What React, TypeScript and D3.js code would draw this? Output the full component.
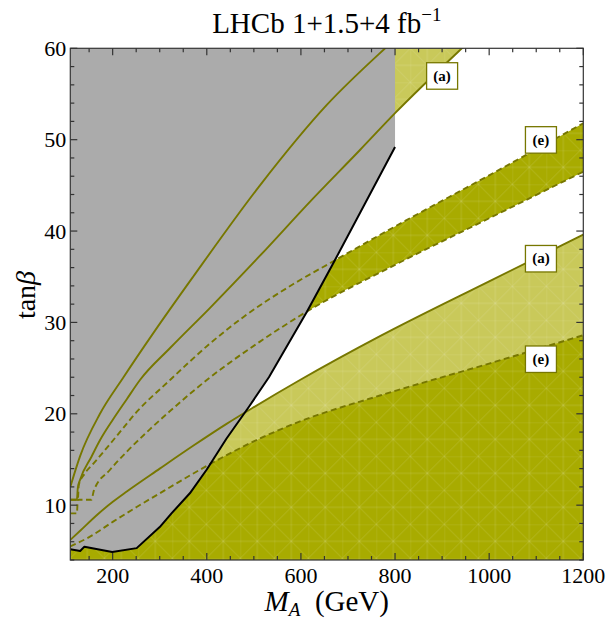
import React from "react";
import * as d3 from "d3";

// ---- data ----
const xTicks = [200, 400, 600, 800, 1000, 1200];
const yTicks = [10, 20, 30, 40, 50, 60];

// black exclusion boundary (grey region lies above it, up to M_A = 800)
const blackM = [110, 131, 140, 199, 251, 300, 325, 364, 400, 442, 490, 532, 613, 669, 800];
const blackT = [5.17, 4.98, 5.46, 4.87, 5.3, 7.6, 9.1, 11.3, 13.9, 17.3, 20.8, 24.0, 31.2, 36.5, 49.2];

// upper (a) band : solid lines
const s1M = [110, 131, 173, 223, 290, 371, 513, 655, 779, 900];
const s1T = [12.0, 15.4, 20.0, 24.0, 29.1, 35.0, 45.0, 53.8, 60.0, 65.5];
const s2M = [110, 124, 126, 131, 155, 173, 201, 230, 258, 322, 407, 513, 619, 726, 800, 942, 1000];
const s2T = [10.6, 10.6, 11.9, 12.8, 15.3, 17.1, 19.4, 21.6, 23.7, 27.2, 31.6, 37.3, 43.2, 48.9, 52.9, 60.0, 62.8];

// upper (e) band : dashed lines
const d1M = [110, 126, 128, 140, 160, 180, 209, 251, 322, 407, 478, 584, 669, 800, 1000, 1200];
const d1T = [10.6, 10.6, 12.2, 13.4, 14.6, 15.8, 17.6, 20.2, 23.7, 27.7, 30.6, 34.2, 36.7, 40.5, 46.1, 51.8];
const d2M = [110, 124, 126, 155, 160, 194, 230, 279, 322, 400, 513, 613, 800, 1000, 1200];
const d2T = [9.1, 9.1, 10.6, 10.6, 11.6, 13.85, 15.85, 18.3, 20.3, 23.7, 27.9, 31.2, 36.3, 41.4, 46.5];

// lower (a) region : solid upper edge
const s3M = [110, 131, 166, 201, 230, 300, 371, 442, 499, 598, 768, 1000, 1200];
const s3T = [6.2, 7.2, 8.9, 10.4, 11.5, 14.0, 16.5, 18.9, 20.7, 23.7, 28.5, 34.5, 39.6];

// lower (e) region : dashed upper edge
const d3M = [110, 150, 201, 251, 300, 336, 400, 513, 600, 768, 1000, 1200];
const d3T = [5.5, 6.5, 8.2, 9.8, 11.3, 12.4, 14.3, 17.3, 19.2, 22.0, 25.5, 28.6];

const labelText = ["(a)", "(e)", "(a)", "(e)"];
const labelM = [900, 1110, 1110, 1110];
const labelT = [57, 50, 37, 26];

const greyEdgeM = 800;

// ---- layout ----
const W = 609, H = 620;
const L = 70.3, R = 583.3, T = 48.3, B = 560;

const x = d3.scaleLinear().domain([110, 1200]).range([L, R]);
const y = d3.scaleLinear().domain([4, 60]).range([B, T]);

const zip = (ms: number[], ts: number[]) => ms.map((m, i) => [m, ts[i]] as [number, number]);

const line = d3.line<[number, number]>().x(d => x(d[0])).y(d => y(d[1])).curve(d3.curveMonotoneX);
const lineLin = d3.line<[number, number]>().x(d => x(d[0])).y(d => y(d[1]));

const COL_DARK = "#a8ab00";
const COL_LIGHT = "#c9c95a";
const COL_LINE = "#777700";
const COL_GREY = "#ababab";
const FONT = "'Liberation Serif', 'Times New Roman', serif";

export default function App() {
  const s1 = zip(s1M, s1T), s2 = zip(s2M, s2T);
  const d1 = zip(d1M, d1T), d2 = zip(d2M, d2T);
  const s3 = zip(s3M, s3T), d3p = zip(d3M, d3T);
  const blk = zip(blackM, blackT);

  const closeDown = (pts: [number, number][]) =>
    line(pts)! + `L${x(1200)},${y(4)}L${x(110)},${y(4)}Z`;
  const band = (up: [number, number][], lo: [number, number][]) => {
    const a = line(up)!;
    const b = line(lo.slice().reverse())!;
    return a + "L" + b.slice(1) + "Z";
  };

  const lightLower = closeDown(s3);
  const darkLower = closeDown(d3p);
  const lightBand = band(s1, s2);
  const darkBand = band(d1, d2);
  const grey = lineLin(blk)! + `L${x(greyEdgeM)},${y(60)}L${x(110)},${y(60)}Z`;

  const xMinor = d3.range(150, 1201, 50);
  const yMinor = d3.range(4, 61, 2);

  const mesh = (id: string, color: string) => (
    <pattern id={id} patternUnits="userSpaceOnUse" width={34} height={34} x={L} y={T}>
      <rect width={34} height={34} fill={color} />
      <g stroke="#ffffff" strokeOpacity={0.2} strokeWidth={0.7} fill="none">
        <path d="M0,0L34,34M34,0L0,34M17,0V34M0,17H34M0,0H34M0,0V34" />
      </g>
    </pattern>
  );

  return (
    <svg width={W} height={H} style={{ position: "absolute", left: 0, top: 0, background: "#fff", fontFamily: FONT }}>
      <defs>
        <clipPath id="plot"><rect x={L} y={T} width={R - L} height={B - T} /></clipPath>
        {mesh("mDark", COL_DARK)}
        {mesh("mLight", COL_LIGHT)}
      </defs>

      <g clipPath="url(#plot)">
        <path d={lightLower} fill="url(#mLight)" />
        <path d={lightBand} fill="url(#mLight)" />
        <path d={darkLower} fill="url(#mDark)" />
        <path d={darkBand} fill="url(#mDark)" />
        <path d={grey} fill={COL_GREY} />
        <g fill="none" stroke={COL_LINE} strokeWidth={1.9} strokeLinejoin="round">
          <path d={line(s1)!} />
          <path d={line(s2)!} />
          <path d={line(s3)!} />
          <path d={line(d1)!} strokeDasharray="6,3.5" />
          <path d={line(d2)!} strokeDasharray="6,3.5" />
          <path d={line(d3p)!} strokeDasharray="6,3.5" />
        </g>
        <path d={lineLin(blk)!} fill="none" stroke="#000" strokeWidth={2} strokeLinejoin="round" />
      </g>

      {/* frame and ticks */}
      <g stroke="#333" strokeWidth={1.2}>
        {xMinor.map(v => {
          const len = v % 200 === 0 ? 7 : 4;
          return (
            <g key={"xt" + v}>
              <line x1={x(v)} x2={x(v)} y1={B} y2={B - len} />
              <line x1={x(v)} x2={x(v)} y1={T} y2={T + len} />
            </g>
          );
        })}
        {yMinor.map(v => {
          const len = v % 10 === 0 ? 7 : 4;
          return (
            <g key={"yt" + v}>
              <line x1={L} x2={L + len} y1={y(v)} y2={y(v)} />
              <line x1={R} x2={R - len} y1={y(v)} y2={y(v)} />
            </g>
          );
        })}
        <rect x={L} y={T} width={R - L} height={B - T} fill="none" />
      </g>

      {/* tick labels */}
      <g fontSize={22} fill="#000">
        {xTicks.map(v => (
          <text key={"xl" + v} x={x(v)} y={B + 23} textAnchor="middle">{v}</text>
        ))}
        {yTicks.map(v => (
          <text key={"yl" + v} x={L - 4} y={y(v) + 7.5} textAnchor="end">{v}</text>
        ))}
      </g>

      {/* region labels */}
      {labelText.map((t, i) => (
        <g key={"lab" + i}>
          <rect x={x(labelM[i]) - 15.5} y={y(labelT[i]) - 13} width={31} height={26.5}
            fill="#fff" stroke={COL_LINE} strokeWidth={1.3} />
          <text x={x(labelM[i])} y={y(labelT[i]) + 5} textAnchor="middle" fontWeight="bold" fontSize={15}>{t}</text>
        </g>
      ))}

      {/* titles */}
      <text x={(L + R) / 2} y={33} textAnchor="middle" fontSize={29}>
        LHCb 1+1.5+4 fb<tspan dy={-12} fontSize={19}>−1</tspan>
      </text>
      <text x={(L + R) / 2} y={611} textAnchor="middle" fontSize={29}>
        <tspan fontStyle="italic">M</tspan><tspan fontStyle="italic" fontSize={19} dy={5}>A</tspan>
        <tspan dy={-5}>{"\u00a0\u00a0(GeV)"}</tspan>
      </text>
      <text transform={`translate(35,${y(33)}) rotate(-90)`} textAnchor="middle" fontSize={28}>
        tan<tspan fontStyle="italic">β</tspan>
      </text>
    </svg>
  );
}
